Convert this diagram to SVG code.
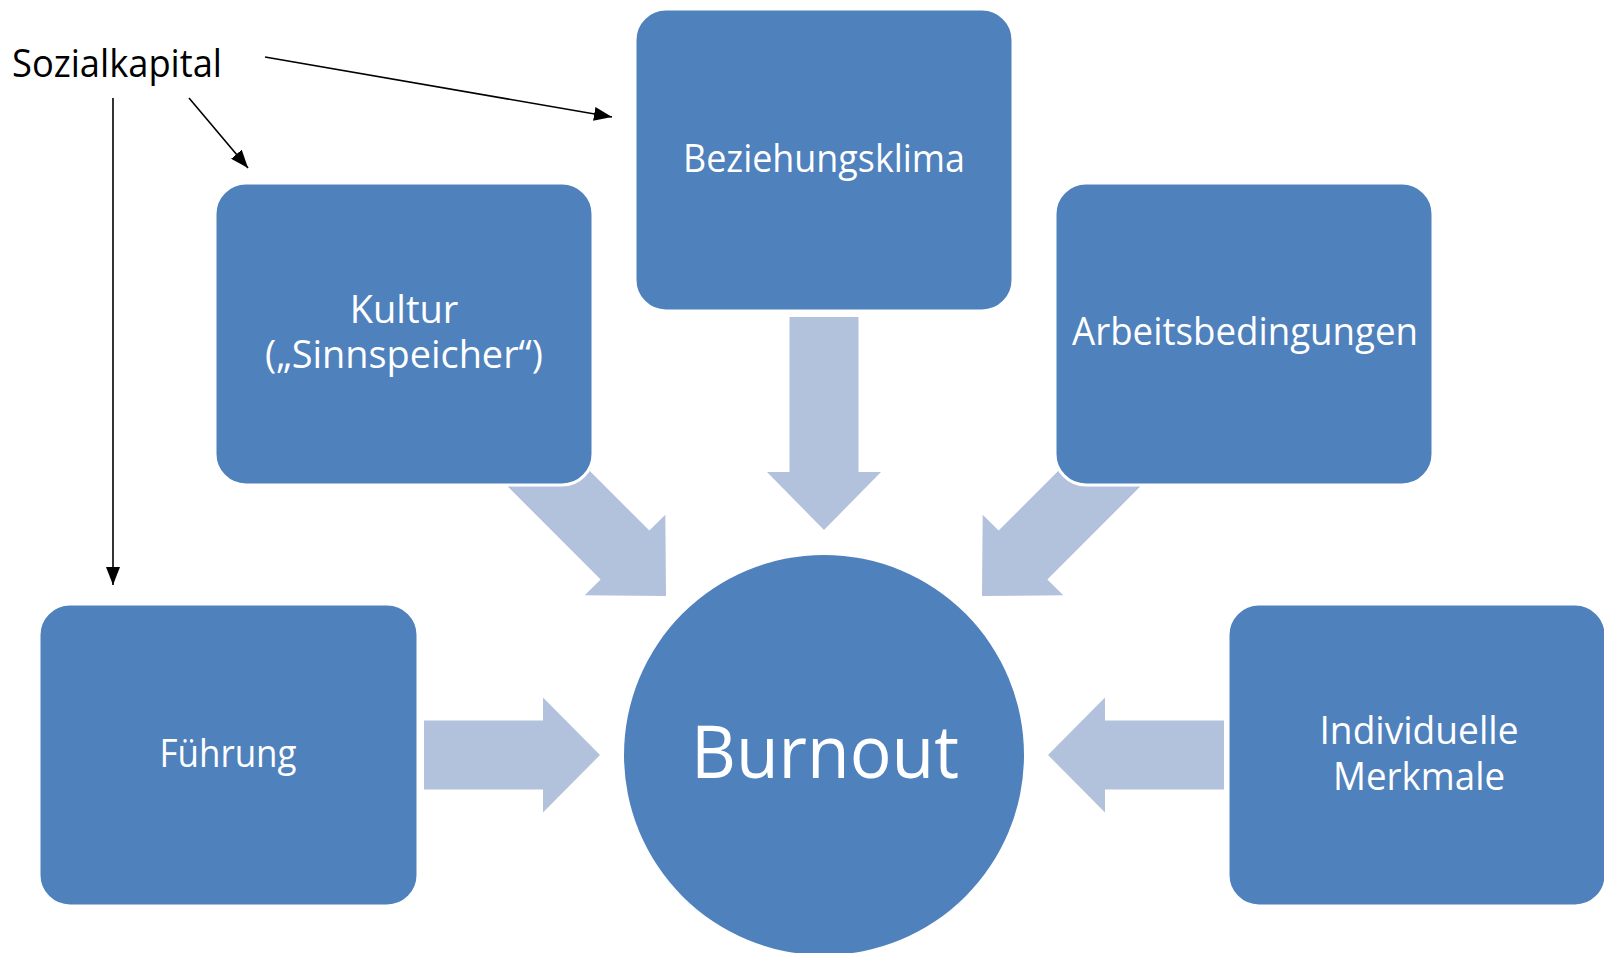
<svg xmlns="http://www.w3.org/2000/svg" width="1604" height="953" viewBox="0 0 1604 953">
<style>
.box{fill:#4F81BD;stroke:#FFFFFF;stroke-width:3}
.fat{fill:#B3C2DC}
.lbl{font-family:"Open Sans","Noto Sans",sans-serif;font-size:38px;fill:#FFFFFF;text-anchor:middle}
.con{stroke:#000000;stroke-width:1.6;fill:none}
</style>
<defs>
<marker id="ah" markerUnits="userSpaceOnUse" markerWidth="20" markerHeight="14" refX="18" refY="7" orient="auto">
<path d="M0,0 L18,7 L0,14 Z" fill="#000000"/>
</marker>
<path id="bigarrow" d="M0,-34.5 H155 V-57 L213,0 L155,57 V34.5 H0 Z"/>
</defs>
<rect width="1604" height="953" fill="#FFFFFF"/>
<g id="fat-arrows">
<use href="#bigarrow" class="fat" transform="translate(824,317) rotate(90)"/>
<use href="#bigarrow" class="fat" transform="translate(515.4,445.4) rotate(45)"/>
<use href="#bigarrow" class="fat" transform="translate(1132.6,445.4) rotate(135)"/>
<path class="fat" d="M424,720.5 H543 V697.5 L600,755 L543,812.5 V789.5 H424 Z"/>
<path class="fat" d="M1224,720.5 H1105 V697.5 L1048,755 L1105,812.5 V789.5 H1224 Z"/>
</g>
<g id="node-beziehungsklima">
<rect class="box" x="635" y="9" width="378" height="302" rx="31"/>
<text class="lbl" x="824" y="172" textLength="282" lengthAdjust="spacingAndGlyphs">Beziehungsklima</text>
</g>
<g id="node-kultur">
<rect class="box" x="215" y="183" width="378" height="302" rx="31"/>
<text class="lbl" x="404" y="323">Kultur</text>
<text class="lbl" x="404" y="368" textLength="278" lengthAdjust="spacingAndGlyphs">(„Sinnspeicher“)</text>
</g>
<g id="node-arbeitsbedingungen">
<rect class="box" x="1055" y="183" width="378" height="302" rx="31"/>
<text class="lbl" x="1245" y="345" textLength="346" lengthAdjust="spacingAndGlyphs">Arbeitsbedingungen</text>
</g>
<g id="node-fuehrung">
<rect class="box" x="39" y="604" width="379" height="302" rx="31"/>
<text class="lbl" x="228" y="767" textLength="137" lengthAdjust="spacingAndGlyphs">Führung</text>
</g>
<g id="node-individuelle">
<rect class="box" x="1228" y="604" width="378" height="302" rx="31"/>
<text class="lbl" x="1419" y="744" textLength="199" lengthAdjust="spacingAndGlyphs">Individuelle</text>
<text class="lbl" x="1419" y="790" textLength="172" lengthAdjust="spacingAndGlyphs">Merkmale</text>
</g>
<g id="node-burnout">
<circle cx="824" cy="755" r="200" fill="#4F81BD"/>
<text class="lbl" x="825" y="778" style="font-size:74px" textLength="268" lengthAdjust="spacingAndGlyphs">Burnout</text>
</g>
<g id="node-sozialkapital">
<text x="12" y="77" style="font-family:'Open Sans','Noto Sans',sans-serif;font-size:38px;fill:#000000" textLength="210" lengthAdjust="spacingAndGlyphs">Sozialkapital</text>
</g>
<g id="connectors">
<line class="con" x1="265" y1="57" x2="612" y2="117" marker-end="url(#ah)"/>
<line class="con" x1="189" y1="98" x2="248" y2="168" marker-end="url(#ah)"/>
<line class="con" x1="113" y1="98" x2="113" y2="585" marker-end="url(#ah)"/>
</g>
</svg>
